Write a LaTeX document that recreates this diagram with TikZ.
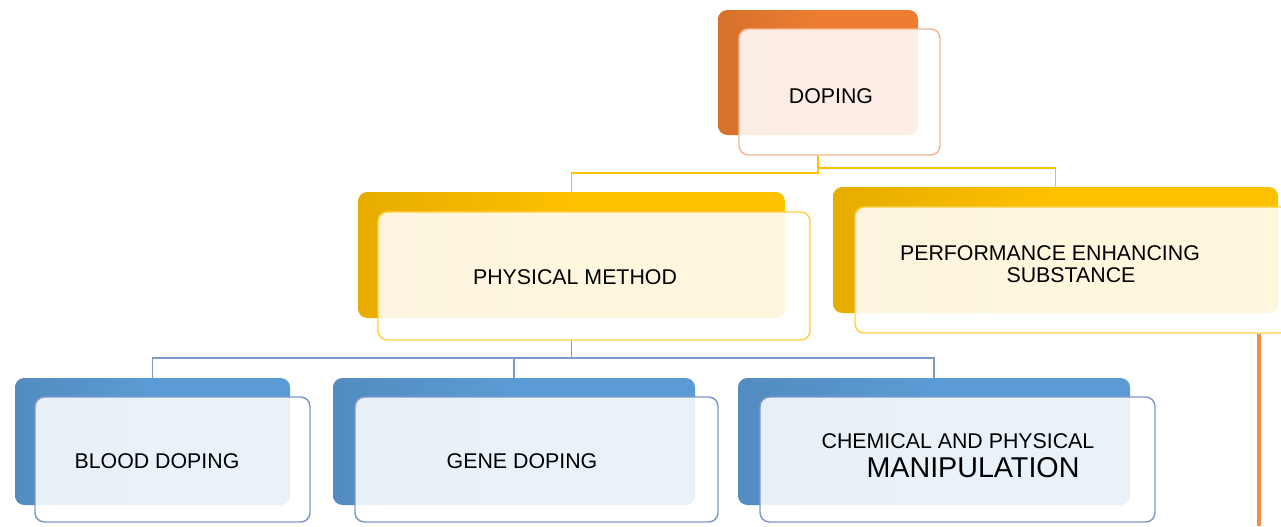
\documentclass[tikz,border=0pt]{standalone}
\usepackage{fontspec}
\setmainfont{Liberation Sans}
\usetikzlibrary{positioning}
\definecolor{dopeorange}{RGB}{237,125,49}
\definecolor{dopeyellow}{RGB}{255,192,0}
\definecolor{dopeblue}{RGB}{91,155,213}
\definecolor{dopeblueline}{RGB}{125,152,202}
\definecolor{dopeorangeline}{RGB}{238,142,72}

\begin{document}
\begin{tikzpicture}[x=0.75pt, y=-0.75pt,
    backbox/.style={rectangle, rounded corners=7pt, inner sep=0pt,
                    left color=#1!90!black, right color=#1, middle color=#1},
    frontbox/.style={rectangle, rounded corners=7pt, inner sep=0pt, line width=1.1pt,
                     draw=#1, fill=white, fill opacity=0.87},
    label/.style={align=center, inner sep=1pt, font=\fontsize{16}{17}\selectfont},
    link/.style={line width=1.2pt, draw=#1}]
  \path[use as bounding box, fill=white] (0,0) rectangle (1281,526);

  % top level
  \node[backbox=dopeorange, minimum width=150pt, minimum height=93.75pt] (dopingbk) at (818,72.5) {};
  \node[frontbox=dopeorange!55, minimum width=150.75pt, minimum height=94.5pt] (dopingfr) at (839.5,92) {};
  \node[label] (doping) at (831,96) {DOPING};

  % second level
  \node[backbox=dopeyellow, minimum width=320.25pt, minimum height=94.5pt] (pmbk) at (571.5,255) {};
  \node[frontbox=dopeyellow!75, minimum width=324pt, minimum height=96pt] (pmfr) at (594,276) {};
  \node[label] (pm) at (575,277) {PHYSICAL METHOD};

  \node[backbox=dopeyellow, minimum width=333.75pt, minimum height=94.5pt] (pesbk) at (1055.5,250) {};
  \node[frontbox=dopeyellow!75, minimum width=333pt, minimum height=94.5pt] (pesfr) at (1077,270) {};
  \node[label] (pes) at (1050,264) {PERFORMANCE ENHANCING\\\hspace*{31.5pt}SUBSTANCE};

  % third level
  \node[backbox=dopeblue, minimum width=206.25pt, minimum height=95.25pt] (bloodbk) at (152.5,441.5) {};
  \node[frontbox=dopeblueline, minimum width=206.25pt, minimum height=93.75pt] (bloodfr) at (172.5,459.5) {};
  \node[label] (blood) at (157,461) {BLOOD DOPING};

  \node[backbox=dopeblue, minimum width=271.5pt, minimum height=95.25pt] (genebk) at (514,441.5) {};
  \node[frontbox=dopeblueline, minimum width=272.25pt, minimum height=93.75pt] (genefr) at (536.5,459.5) {};
  \node[label] (gene) at (522,461) {GENE DOPING};

  \node[backbox=dopeblue, minimum width=294pt, minimum height=95.25pt] (chembk) at (934,441.5) {};
  \node[frontbox=dopeblueline, minimum width=296.25pt, minimum height=93.75pt] (chemfr) at (957.5,459.5) {};
  \node[label] (chem) at (958,456) {CHEMICAL AND PHYSICAL\\[5pt]{\fontsize{21.5}{22}\selectfont\hspace*{22.5pt}MANIPULATION}};

  % connectors
  \coordinate (pesend) at (1259,526);
  \draw[link=dopeyellow] (dopingbk.south |- dopingfr.south) -- ++(0,17) -| (pmbk.north);
  \draw[link=dopeyellow] (dopingbk.south |- dopingfr.south) -- ++(0,12) -| (pesbk.north);
  \draw[link=dopeblueline] (pmbk.south |- pmfr.south) -- ++(0,17) -| (bloodbk.north);
  \draw[link=dopeblueline] (pmbk.south |- pmfr.south) -- ++(0,17) -| (genebk.north);
  \draw[link=dopeblueline] (pmbk.south |- pmfr.south) -- ++(0,17) -| (chembk.north);
  \draw[link=dopeorangeline, line width=3pt] (pesfr.south -| pesend) -- (pesend);
\end{tikzpicture}
\end{document}
